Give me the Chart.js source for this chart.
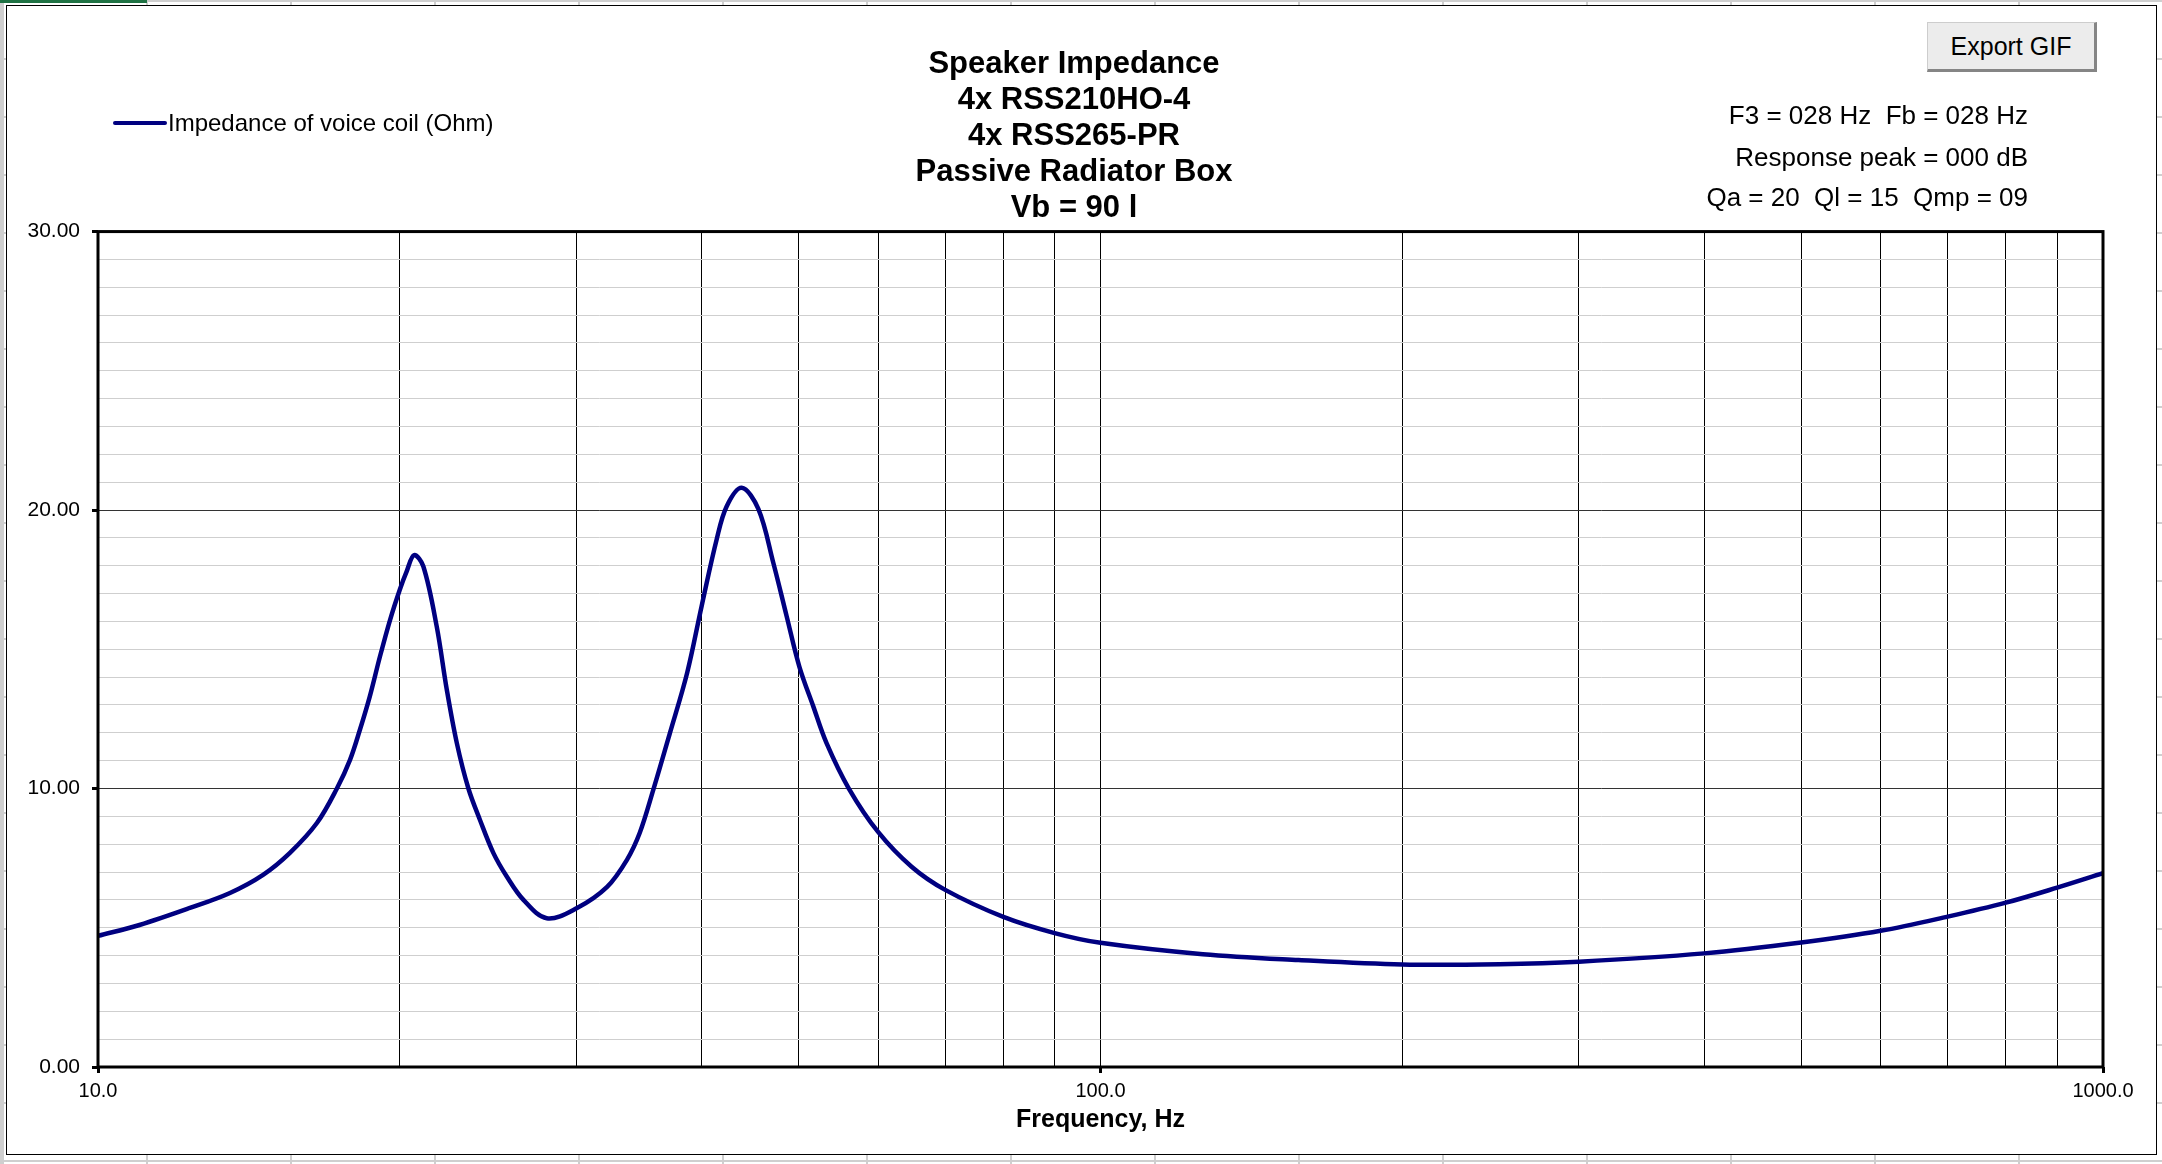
<!DOCTYPE html>
<html>
<head>
<meta charset="utf-8">
<script src="https://cdn.jsdelivr.net/npm/chart.js@4.4.1/dist/chart.umd.min.js"></script>
<style>
  body { margin: 0; background: #fff; font-family: 'Liberation Sans', Arial, sans-serif; }
  #sheet {
    position: absolute; left: 0; top: 0; width: 2162px; height: 1164px;
    background-image:
      repeating-linear-gradient(to right, #cfcfcf 0 2px, transparent 2px 144px),
      repeating-linear-gradient(to bottom, #cfcfcf 0 2px, transparent 2px 58px);
    background-position: 2px 0, 0 0;
  }
  #tab { position: absolute; left: 0; top: 0; width: 147px; height: 3px; background: #1f7244; }
  #frame {
    position: absolute; left: 6px; top: 5px; width: 2149px; height: 1148px;
    background: #fff; border: 1px solid #000;
  }
  canvas { position: absolute; left: 0; top: 0; }
  .info {
    position: absolute; right: 134px; font-size: 26px; line-height: 30px;
    color: #000; white-space: pre; text-align: right;
  }
  #export {
    position: absolute; left: 1927px; top: 22px; width: 170px; height: 50px;
    box-sizing: border-box; background: #ececec; color: #000;
    border: 1px solid #cdcdcd; border-right: 3px solid #858585; border-bottom: 3px solid #858585;
    font-family: 'Liberation Sans', Arial, sans-serif; font-size: 25px; padding: 0;
  }
</style>
</head>
<body>
<div id="sheet"></div>
<div id="tab"></div>
<div id="frame"></div>
<canvas id="myChart" width="2162" height="1164"></canvas>
<div class="info" style="top:100px">F3 = 028 Hz  Fb = 028 Hz</div>
<div class="info" style="top:142px">Response peak = 000 dB</div>
<div class="info" style="top:182px">Qa = 20  Ql = 15  Qmp = 09</div>
<button id="export">Export GIF</button>
<script>
// values
let freqs = [10, 11, 12.35, 13.54, 14.61, 15.54, 16.54, 17.31, 17.84, 18.25, 18.67, 19.11, 19.56, 20, 20.32, 20.67,
  21.11, 21.77, 22.28, 22.8, 23.41, 24.04, 24.8, 25.57, 26.57, 28.03, 30.05, 32.2, 33.7, 34.7,
  35.8, 37.2, 38.7, 40, 41.41, 42.37, 43.86, 45.57, 47.17, 48.64, 50.07, 51.7, 53.3, 56.1, 60, 64.8, 70,
  80, 90, 100, 126.5, 157.6, 200, 250, 300, 400, 500, 600, 700, 800, 900, 1000];
let impedance = [4.71, 5.10, 5.71, 6.25, 6.90, 7.69, 8.77, 10.0, 11.03, 12.11, 13.31, 14.74, 16.06, 17.14, 17.8, 18.38,
  17.98, 15.82, 13.55, 11.63, 10.01, 8.88, 7.68, 6.84, 6.0, 5.34, 5.71, 6.47, 7.44, 8.4,
  9.95, 12.0, 14.16, 16.54, 18.94, 20.13, 20.8, 20.04, 18.1, 16.18, 14.38, 12.95, 11.63, 10.0, 8.44, 7.19, 6.36,
  5.39, 4.81, 4.46, 4.05, 3.84, 3.68, 3.69, 3.78, 4.08, 4.47, 4.89, 5.40, 5.90, 6.44, 6.96];

let titleLines = ['Speaker Impedance', '4x RSS210HO-4', '4x RSS265-PR', 'Passive Radiator Box', 'Vb = 90 l'];
let seriesLabel = 'Impedance of voice coil (Ohm)';
let xGridValues = [10, 20, 30, 40, 50, 60, 70, 80, 90, 100, 200, 300, 400, 500, 600, 700, 800, 900, 1000];
let xTickLabels = [10, 100, 1000];
let yTickLabels = [0, 10, 20, 30];

Chart.defaults.font.family = "'Liberation Sans', Arial, sans-serif";
Chart.defaults.color = '#000';

let framePlugin = {
  id: 'frame',
  afterLayout(chart) {
    // title sits a little right of the canvas centre
    let t = chart.titleBlock;
    if (t) { t.left += 12.5; t.right += 12.5; }
  },
  afterDraw(chart) {
    let ctx = chart.ctx;
    let a = chart.chartArea;
    ctx.save();
    ctx.strokeStyle = '#000';
    ctx.lineWidth = 3;
    ctx.strokeRect(a.left, a.top, a.right - a.left, a.bottom - a.top);

    // legend entry
    let ds = chart.data.datasets[0];
    ctx.strokeStyle = ds.borderColor;
    ctx.lineWidth = 4;
    ctx.lineCap = 'round';
    ctx.beginPath();
    ctx.moveTo(115, 123);
    ctx.lineTo(165, 123);
    ctx.stroke();
    ctx.fillStyle = '#000';
    ctx.font = "24px 'Liberation Sans', Arial, sans-serif";
    ctx.textBaseline = 'middle';
    ctx.fillText(ds.label, 168, 124);
    ctx.restore();
  }
};

let mychart = document.getElementById('myChart');

let chart = new Chart(mychart, {
  type: 'line',
  data: {
    datasets: [{
      label: seriesLabel,
      data: freqs.map((f, i) => ({ x: f, y: impedance[i] })),
      borderColor: '#000080',
      borderWidth: 4.5,
      pointRadius: 0,
      fill: false,
      tension: 0.35
    }]
  },
  options: {
    responsive: false,
    animation: false,
    devicePixelRatio: 1,
    layout: { padding: { left: 20, right: 59, top: 0, bottom: 29 } },
    plugins: {
      legend: { display: false },
      tooltip: { enabled: false },
      title: {
        display: true,
        text: titleLines,
        font: { size: 31, weight: 'bold', lineHeight: 1.165 },
        color: '#000',
        padding: { top: 46, bottom: 5 }
      }
    },
    scales: {
      x: {
        type: 'logarithmic',
        min: 10,
        max: 1000,
        afterBuildTicks: s => { s.ticks = xGridValues.map(v => ({ value: v })); },
        afterFit: s => { s.height = 68; },
        ticks: {
          autoSkip: false,
          maxRotation: 0,
          padding: 6,
          font: { size: 20 },
          callback: v => xTickLabels.includes(v) ? v.toFixed(1) : ''
        },
        grid: {
          color: '#000',
          lineWidth: 1,
          tickLength: 6,
          tickWidth: 3,
          tickColor: c => xTickLabels.includes(c.tick.value) ? '#000' : 'rgba(0,0,0,0)'
        },
        border: { display: false },
        title: {
          display: true,
          text: 'Frequency, Hz',
          font: { size: 25, weight: 'bold', lineHeight: 1.2 },
          padding: 0
        }
      },
      y: {
        min: 0,
        max: 30,
        afterFit: s => { s.width = 78; },
        ticks: {
          stepSize: 1,
          autoSkip: false,
          padding: 12,
          font: { size: 21 },
          callback: v => yTickLabels.includes(v) ? v.toFixed(2) : ''
        },
        grid: {
          color: c => c.tick.value % 10 === 0 ? '#333' : '#cfcfcf',
          lineWidth: 1,
          tickLength: 6,
          tickWidth: 3,
          tickColor: c => c.tick.value % 10 === 0 ? '#000' : 'rgba(0,0,0,0)'
        },
        border: { display: false }
      }
    }
  },
  plugins: [framePlugin]
});
</script>
</body>
</html>
